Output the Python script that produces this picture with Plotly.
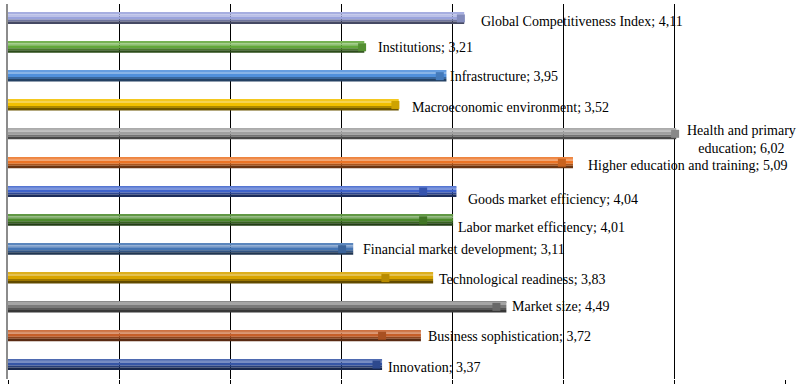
import plotly.graph_objects as go

categories = [
    "Global Competitiveness Index", "Institutions", "Infrastructure",
    "Macroeconomic environment", "Health and primary education",
    "Higher education and training", "Goods market efficiency",
    "Labor market efficiency", "Financial market development",
    "Technological readiness", "Market size", "Business sophistication",
    "Innovation",
]
values = [4.11, 3.21, 3.95, 3.52, 6.02, 5.09, 4.04, 4.01, 3.11, 3.83, 4.49, 3.72, 3.37]
# small square markers seen on each bar
marker_values = [4.08, 3.19, 3.89, 3.49, 6.01, 4.99, 3.74, 3.74, 3.01, 3.40, 4.40, 3.37, 3.32]

base_colors = ["#9AA3DC", "#62A83A", "#5090DC", "#F2C000", "#A0A0A0", "#EC7425",
               "#3F63CC", "#4C8A2C", "#4575B4", "#D8A400", "#7A7A7A", "#C65E28", "#3656A6"]

# label placement (style): xshift px, yshift px (positive = down)
label_dx = [15, 12, 2, 11, 9, 13, 10, 3, 8, 4, 4, 5, 4]
label_dy = [3, 0, 0, 3, 6, 3, 8, 7, 0, 1, 0, 1, 3]

BAND_PX = 28.85
BAR_PX = 11.0


def hex2rgb(h):
    h = h.lstrip("#")
    return [int(h[i:i + 2], 16) for i in (0, 2, 4)]


def shade(h, f):
    r, g, b = hex2rgb(h)
    if f >= 1:
        m = f - 1
        r, g, b = [c + (255 - c) * m for c in (r, g, b)]
    else:
        r, g, b = [c * f for c in (r, g, b)]
    return "rgb(%d,%d,%d)" % tuple(max(0, min(255, round(c))) for c in (r, g, b))


# stripes from top of bar: (start_px, end_px, shade factor)
stripes = [
    (0.0, 1.5, 1.12),
    (1.5, 3.5, 1.32),
    (3.5, 6.5, 1.0),
    (6.5, 8.5, 0.72),
    (8.5, 11.0, 0.45),
]

ypos = list(range(len(categories)))
fig = go.Figure()
for s0, s1, f in stripes:
    off = (-BAR_PX / 2 + s0) / BAND_PX
    w = (s1 - s0) / BAND_PX
    fig.add_trace(go.Bar(
        x=values, y=ypos, orientation="h",
        offset=off, width=w,
        marker=dict(color=[shade(c, f) for c in base_colors], line=dict(width=0)),
        hoverinfo="skip", showlegend=False,
    ))

fig.add_trace(go.Scatter(
    x=marker_values, y=ypos, mode="markers",
    marker=dict(symbol="square", size=8,
                color=[shade(c, 0.85) for c in base_colors], line=dict(width=0)),
    hoverinfo="skip", showlegend=False,
))

annotations = []
for i, (cat, v) in enumerate(zip(categories, values)):
    txt = f"{cat}; {v:.2f}".replace(".", ",")
    if i == 4:
        txt = "Health and primary<br>education; " + f"{v:.2f}".replace(".", ",")
    annotations.append(dict(
        x=v, y=i, xref="x", yref="y", text=txt, showarrow=False,
        xanchor="left", yanchor="middle", align="center",
        xshift=label_dx[i], yshift=-label_dy[i],
        font=dict(family="Liberation Serif", size=14, color="black"),
    ))

fig.update_layout(
    width=802, height=384,
    margin=dict(l=8, r=17, t=4, b=5),
    paper_bgcolor="white", plot_bgcolor="white",
    barmode="overlay",
    annotations=annotations,
    font=dict(family="Liberation Serif"),
    xaxis=dict(range=[0, 7], dtick=1, showgrid=True, gridcolor="black", gridwidth=1,
               zeroline=False, showline=False, showticklabels=False, automargin=False,
               ticks="outside", ticklen=6, tickcolor="black", tickwidth=1),
    yaxis=dict(range=[len(categories) - 0.5, -0.5], showgrid=False, zeroline=False,
               showline=True, linecolor="#8C8C8C", linewidth=2, showticklabels=False,
               ticks="", automargin=False),
)

fig.write_html("out.html", config={"displayModeBar": False},
               post_script="document.body.style.margin='0';")
